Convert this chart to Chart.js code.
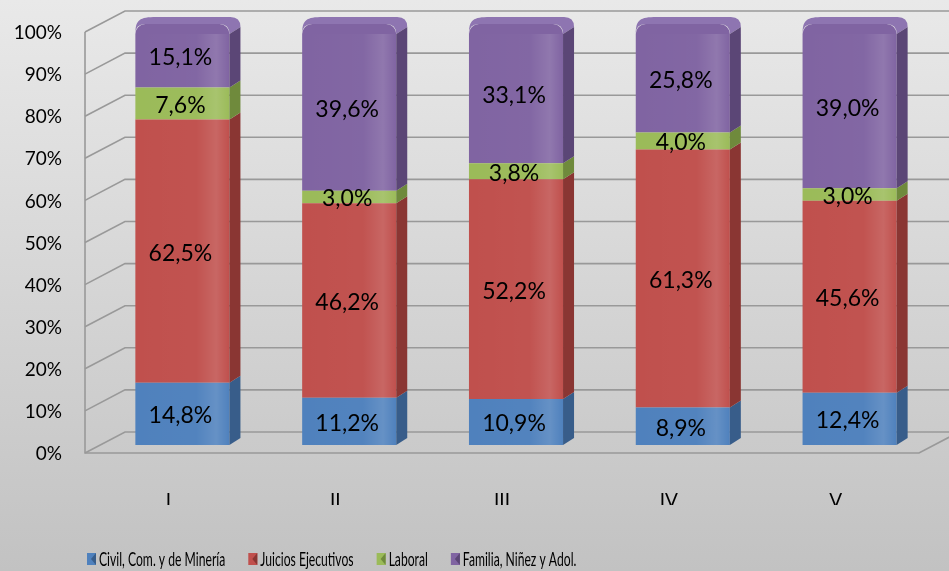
<!DOCTYPE html>
<html>
<head>
<meta charset="utf-8">
<script src="https://cdn.jsdelivr.net/npm/chart.js@4/dist/chart.umd.min.js"></script>
<style>
  html, body { margin: 0; padding: 0; background: #d6d6d6; }
  canvas { display: block; }
</style>
</head>
<body>
<canvas id="chart" width="949" height="571"></canvas>
<script>
// ---------------- data ----------------
const categories = ["I", "II", "III", "IV", "V"];
const civil   = [14.8, 11.2, 10.9, 8.9, 12.4];
const juicios = [62.5, 46.2, 52.2, 61.3, 45.6];
const laboral = [7.6, 3.0, 3.8, 4.0, 3.0];
const familia = [15.1, 39.6, 33.1, 25.8, 39.0];
const seriesNames = ["Civil, Com. y de Minería", "Juicios Ejecutivos", "Laboral", "Familia, Niñez y Adol."];

// ---------------- look ----------------
const FONT = "Lato, 'Open Sans', sans-serif";
const front = ["#4f81bd", "#c0504d", "#9bbb59", "#8064a2"];
const side  = ["#385d8a", "#8a3633", "#6f8a3c", "#5b4676"];
const topColor = "#8e75b1";
const DX = 11, DY = -7, R = 10;          // bar depth + rounded cap
const FRONT_OFF = { dx: -14, dy: 8 };    // front plane of the box
const BACK_OFF = { dx: 26, dy: -13 };    // back wall

function fmt(v) {
    return v.toFixed(1).replace(".", ",") + "%";
}

// ---------------- plugins ----------------
const background = {
    id: "background",
    beforeDraw(chart) {
        const { ctx, width, height } = chart;
        const g = ctx.createLinearGradient(0, 0, 0, height);
        g.addColorStop(0, "#e9e9e9");
        g.addColorStop(1, "#c2c2c2");
        ctx.save();
        ctx.fillStyle = g;
        ctx.fillRect(0, 0, width, height);
        ctx.restore();
    }
};

// walls + floor drawn from the y scale
const box3d = {
    id: "box3d",
    beforeDatasetsDraw(chart) {
        const { ctx, chartArea: a, scales: { y } } = chart;
        ctx.save();
        ctx.strokeStyle = "#999";
        ctx.lineWidth = 1.6;
        const fx = a.left + FRONT_OFF.dx;
        const bx = a.left + BACK_OFF.dx;
        y.ticks.forEach(t => {
            const py = y.getPixelForValue(t.value);
            ctx.beginPath();
            ctx.moveTo(fx, py + FRONT_OFF.dy);
            ctx.lineTo(bx, py + BACK_OFF.dy);
            ctx.lineTo(chart.width, py + BACK_OFF.dy);
            ctx.stroke();
        });
        const y0 = y.getPixelForValue(0), y100 = y.getPixelForValue(100);
        ctx.beginPath();
        ctx.moveTo(fx, y100 + FRONT_OFF.dy);
        ctx.lineTo(fx, y0 + FRONT_OFF.dy);
        ctx.lineTo(a.right + FRONT_OFF.dx, y0 + FRONT_OFF.dy);
        ctx.lineTo(a.right + BACK_OFF.dx, y0 + BACK_OFF.dy);
        ctx.stroke();
        ctx.restore();
    }
};

// side faces, caps, highlight and value labels
const bars3d = {
    id: "bars3d",
    afterDatasetsDraw(chart) {
        const ctx = chart.ctx;
        const last = chart.data.datasets.length - 1;
        ctx.save();
        chart.data.datasets.forEach((ds, i) => {
            chart.getDatasetMeta(i).data.forEach(el => {
                const { x, y, base, width } = el.getProps(["x", "y", "base", "width"], true);
                const left = x - width / 2, right = x + width / 2;
                const top = i === last ? y + R : y;
                // highlight band on front face
                const g = ctx.createLinearGradient(left, 0, right, 0);
                g.addColorStop(0, "rgba(255,255,255,0)");
                g.addColorStop(0.65, "rgba(255,255,255,0.02)");
                g.addColorStop(0.86, "rgba(255,255,255,0.13)");
                g.addColorStop(1, "rgba(255,255,255,0)");
                ctx.fillStyle = g;
                ctx.fillRect(left, top, width, base - top);
                if (i === last) {
                    ctx.fillStyle = topColor;
                    ctx.beginPath();
                    ctx.moveTo(left, y + R);
                    ctx.bezierCurveTo(left, y + DY * 0.6, left + R * 0.4, y + DY, left + R + DX, y + DY);
                    ctx.lineTo(right + DX - R, y + DY);
                    ctx.quadraticCurveTo(right + DX, y + DY, right + DX, y + DY + R);
                    ctx.lineTo(right, y + R);
                    ctx.quadraticCurveTo(right, y, right - R, y);
                    ctx.lineTo(left + R, y);
                    ctx.quadraticCurveTo(left, y, left, y + R);
                    ctx.fill();
                }
                ctx.fillStyle = side[i];
                ctx.beginPath();
                ctx.moveTo(right, top);
                ctx.lineTo(right + DX, top + DY);
                ctx.lineTo(right + DX, base + DY);
                ctx.lineTo(right, base);
                ctx.closePath();
                ctx.fill();
            });
        });
        ctx.fillStyle = "#000";
        ctx.font = "23px " + FONT;
        ctx.textAlign = "center";
        ctx.textBaseline = "middle";
        chart.data.datasets.forEach((ds, i) => {
            chart.getDatasetMeta(i).data.forEach((el, j) => {
                const { x, y, base } = el.getProps(["x", "y", "base"], true);
                ctx.fillText(fmt(ds.data[j]), x - 2, (y + base) / 2 + 2);
            });
        });
        ctx.restore();
    }
};

// condensed legend along the bottom
const legend = {
    id: "bottomLegend",
    afterDraw(chart) {
        const ctx = chart.ctx;
        const squeeze = 0.64;
        let cx = 87;
        const cy = 560;
        ctx.save();
        ctx.font = "19px " + FONT;
        ctx.textBaseline = "middle";
        chart.data.datasets.forEach((ds, i) => {
            ctx.fillStyle = front[i];
            ctx.fillRect(cx, cy - 7, 9, 12);
            ctx.fillStyle = side[i];
            ctx.beginPath();
            ctx.moveTo(cx + 9, cy - 7);
            ctx.lineTo(cx + 9, cy + 5);
            ctx.lineTo(cx + 4, cy - 1);
            ctx.fill();
            cx += 12;
            const w = ctx.measureText(ds.label).width * squeeze;
            ctx.save();
            ctx.translate(cx, cy);
            ctx.scale(squeeze, 1);
            ctx.fillStyle = "#000";
            ctx.fillText(ds.label, 0, 0);
            ctx.restore();
            cx += w + 23;
        });
        ctx.restore();
    }
};

// ---------------- chart ----------------
const seriesData = [civil, juicios, laboral, familia];

new Chart(document.getElementById("chart"), {
    type: "bar",
    data: {
        labels: categories,
        datasets: seriesData.map((d, i) => ({
            label: seriesNames[i],
            data: d,
            backgroundColor: front[i],
            borderWidth: 0,
            borderRadius: i === 3 ? { topLeft: R, topRight: R, bottomLeft: 0, bottomRight: 0 } : 0,
            borderSkipped: false,
            categoryPercentage: 1,
            barPercentage: 0.564
        }))
    },
    options: {
        responsive: false,
        animation: false,
        devicePixelRatio: 1,
        layout: { padding: { left: 9, right: 16, top: 24, bottom: 66 } },
        plugins: {
            legend: { display: false },
            tooltip: { enabled: false }
        },
        scales: {
            x: {
                stacked: true,
                grid: { display: false },
                border: { display: false },
                ticks: {
                    color: "#000",
                    font: { family: FONT, size: 19 },
                    padding: 36,
                    labelOffset: -14
                },
                afterFit: s => { s.height = 60; }
            },
            y: {
                stacked: true,
                min: 0,
                max: 100,
                grid: { display: false, drawTicks: false },
                border: { display: false },
                ticks: {
                    stepSize: 10,
                    color: "#000",
                    font: { family: FONT, size: 19 },
                    padding: 37,
                    labelOffset: 9,
                    callback: v => v + "%"
                },
                afterFit: s => {
                    s.width = 90;
                    s.paddingTop = 0;
                    s.paddingBottom = 0;
                }
            }
        }
    },
    plugins: [background, box3d, bars3d, legend]
});
</script>
</body>
</html>
